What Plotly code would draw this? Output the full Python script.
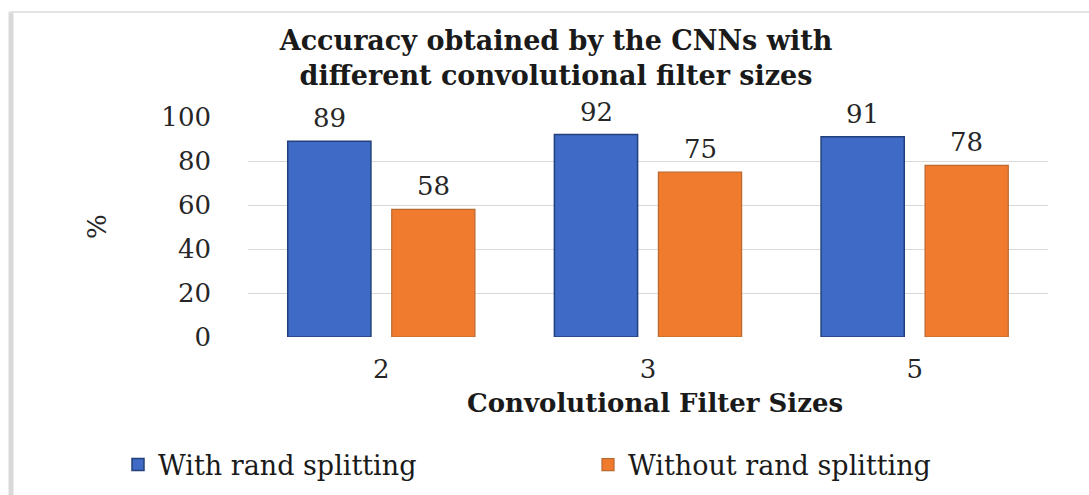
import plotly.graph_objects as go

categories = ["2", "3", "5"]
with_rand = [89, 92, 91]
without_rand = [58, 75, 78]
series_names = ["With rand splitting", "Without rand splitting"]
y_ticks = [0, 20, 40, 60, 80, 100]
title_text = "Accuracy obtained by the CNNs with<br>different convolutional filter sizes"
x_title = "Convolutional Filter Sizes"
y_title = "%"

FONT = "DejaVu Serif"
W, H = 1089, 495
L, R, T, B = 248, 41, 117, 158
PW, PH = W - L - R, H - T - B


def px_x(px):
    return (px - L) / PW


def px_y(py):
    return (H - B - py) / PH


fig = go.Figure()
fig.add_trace(go.Bar(
    x=categories, y=with_rand, name=series_names[0],
    marker=dict(color="#3F6BC6", line=dict(color="#23407A", width=1.5)),
))
fig.add_trace(go.Bar(
    x=categories, y=without_rand, name=series_names[1],
    marker=dict(color="#F07B2E", line=dict(color="#B9682F", width=1.2)),
))

annotations = []
for vals, shift in ((with_rand, -52), (without_rand, 52)):
    for i, v in enumerate(vals):
        annotations.append(dict(
            x=i, y=v, xref="x", yref="y", text=str(v), showarrow=False,
            xshift=shift, yshift=23, yanchor="middle",
            font=dict(family=FONT, size=26, color="#262626"),
        ))

annotations.append(dict(
    x=px_x(655), y=px_y(403), xref="paper", yref="paper", text=f"<b>{x_title}</b>",
    showarrow=False, xanchor="center", yanchor="middle",
    font=dict(family=FONT, size=26, color="#1a1a1a"),
))
annotations.append(dict(
    x=px_x(97), y=px_y(227), xref="paper", yref="paper", text=y_title,
    showarrow=False, xanchor="center", yanchor="middle", textangle=-90,
    font=dict(family=FONT, size=26, color="#262626"),
))

shapes = [
    dict(type="line", xref="paper", yref="paper",
         x0=px_x(11), x1=px_x(11), y0=px_y(495), y1=px_y(12),
         line=dict(color="#d9d9d9", width=5)),
    dict(type="line", xref="paper", yref="paper",
         x0=px_x(9), x1=px_x(1089), y0=px_y(12), y1=px_y(12),
         line=dict(color="#e3e3e3", width=2)),
]

fig.update_layout(
    width=W, height=H,
    margin=dict(l=L, r=R, t=T, b=B, autoexpand=False),
    paper_bgcolor="white", plot_bgcolor="white",
    barmode="group", bargap=0.22, bargroupgap=0.2,
    title=dict(
        text=f"<b>{title_text}</b>", x=556 / W, xanchor="center",
        y=1 - 50 / H, yanchor="top", yref="container",
        font=dict(family=FONT, size=27, color="#1a1a1a"),
    ),
    xaxis=dict(
        type="category", range=[-0.5, 2.5], showgrid=False, showline=False, ticks="",
        ticklabelstandoff=14,
        tickfont=dict(family=FONT, size=26, color="#262626"),
    ),
    yaxis=dict(
        range=[0, 100], tickvals=y_ticks, showgrid=True, gridcolor="#d9d9d9",
        gridwidth=1, zeroline=False, showline=False, ticks="",
        ticklabelstandoff=36,
        tickfont=dict(family=FONT, size=26, color="#262626"),
    ),
    legend=dict(
        orientation="h", x=px_x(118), xanchor="left", y=px_y(465), yanchor="middle",
        font=dict(family=FONT, size=27, color="#1a1a1a"),
        bgcolor="rgba(0,0,0,0)", entrywidth=425, entrywidthmode="pixels",
    ),
    annotations=annotations,
    shapes=shapes,
)

fig.write_html("out.html")
